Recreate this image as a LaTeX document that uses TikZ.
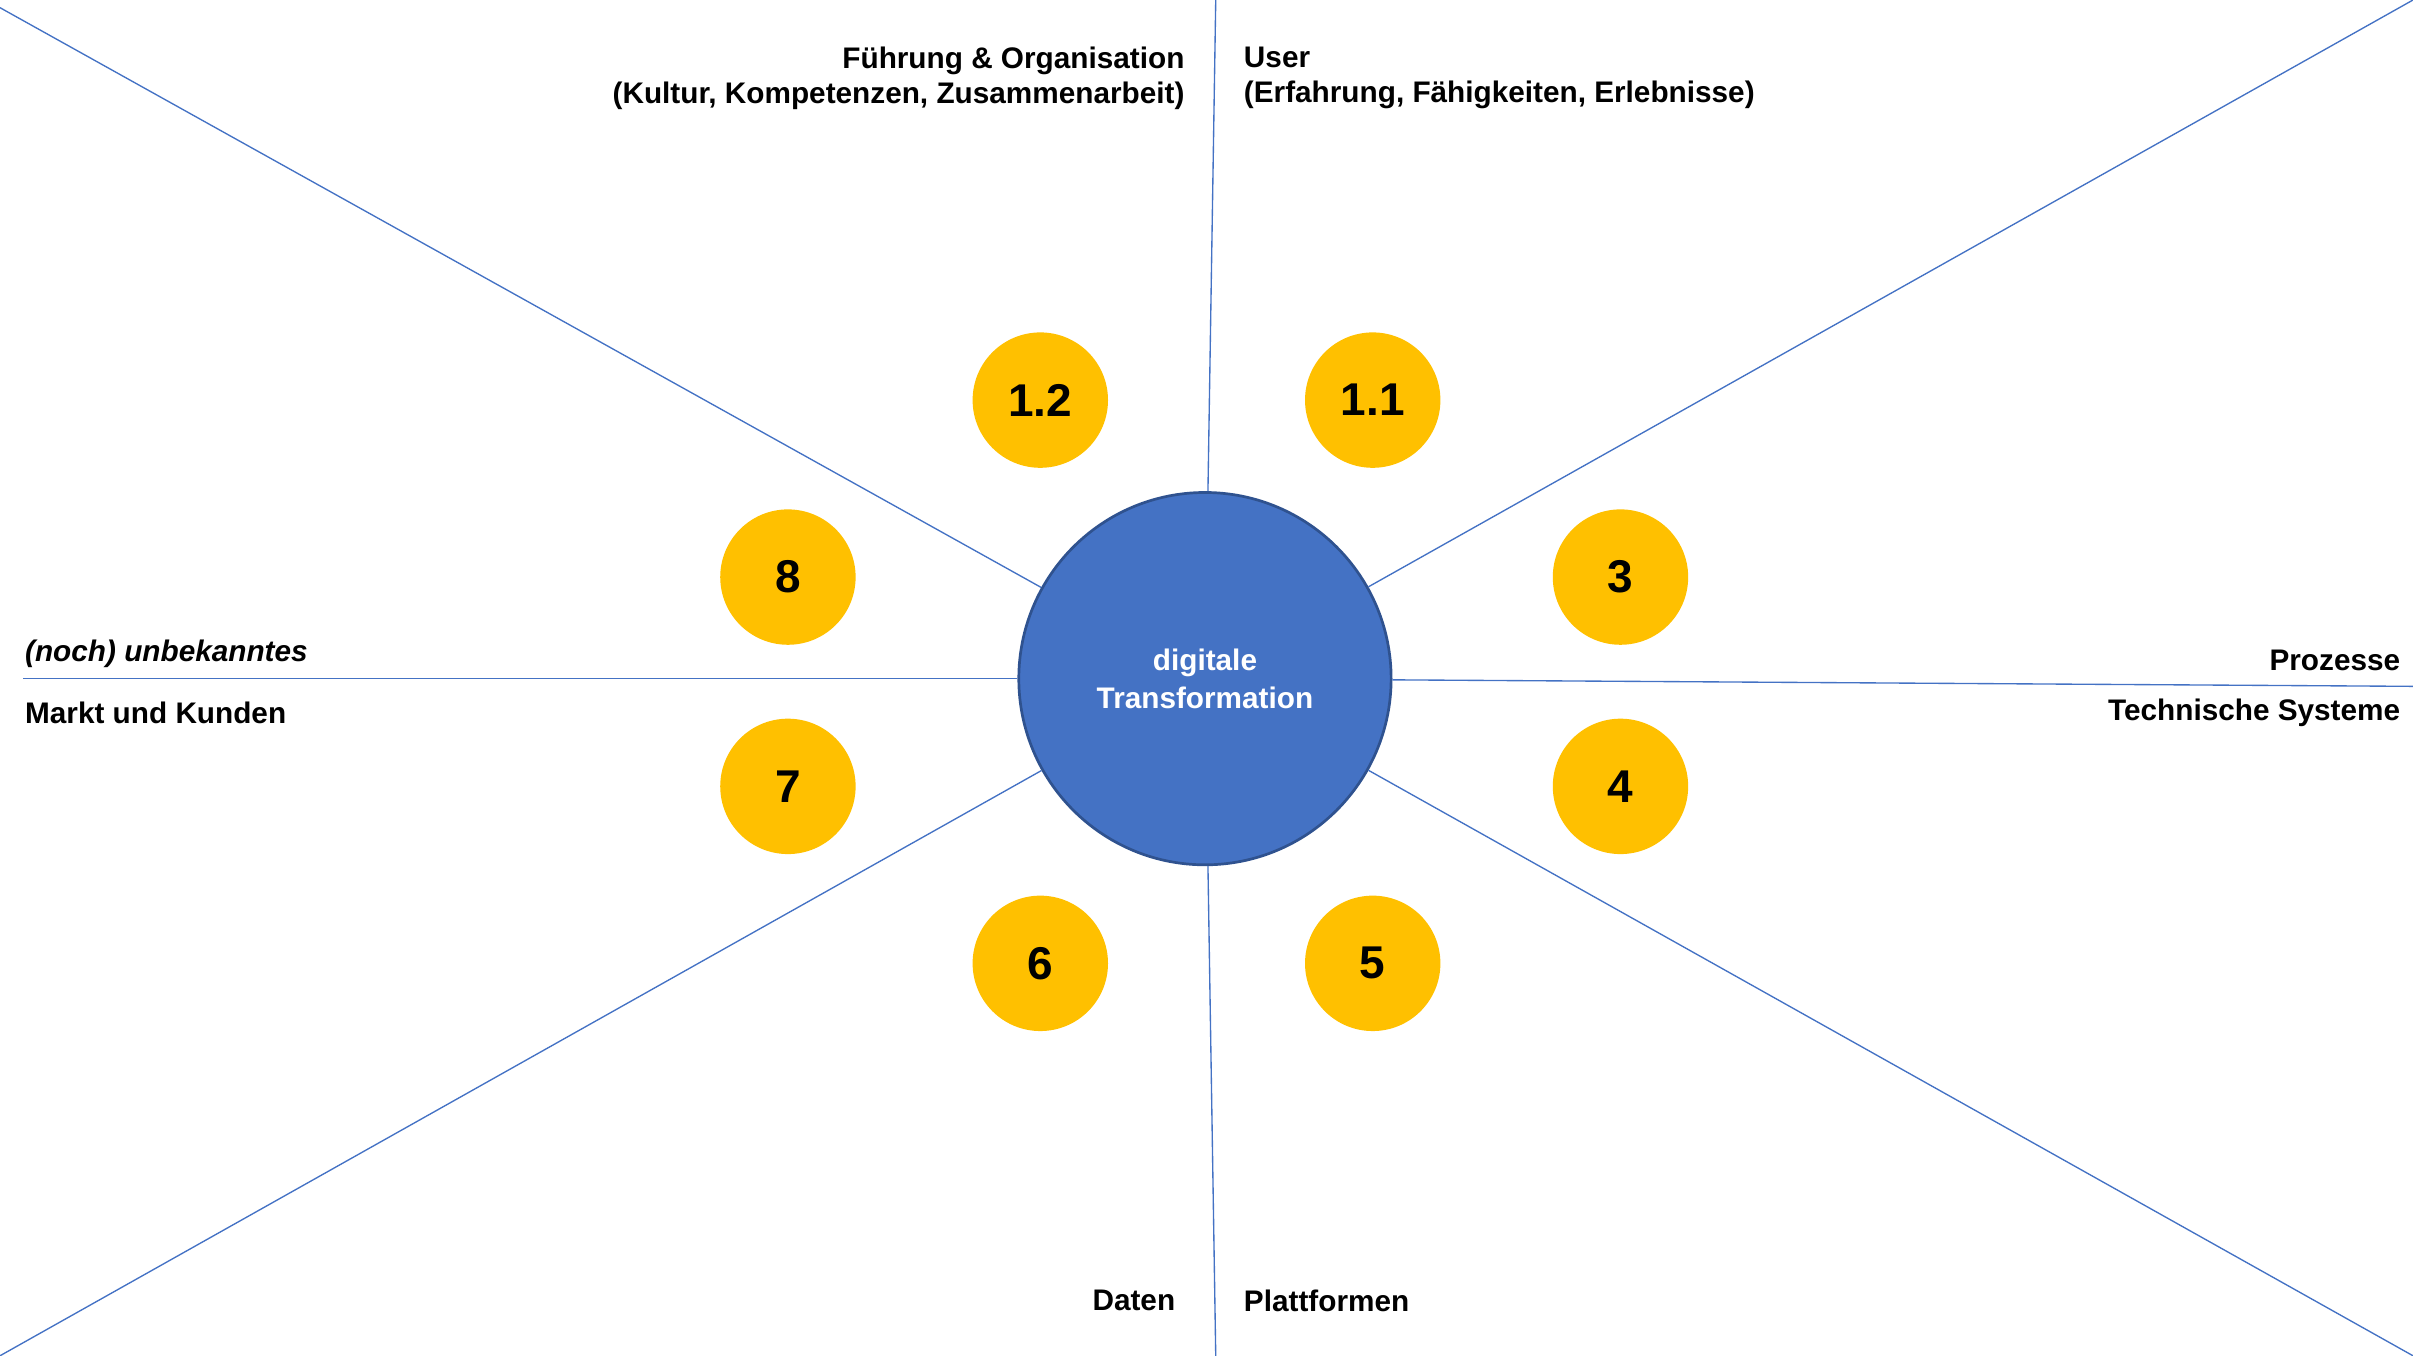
\documentclass[tikz,border=0pt]{standalone}
\usepackage{fontspec}
\setmainfont{Liberation Sans}
\usepackage{tikz}
\definecolor{ringblue}{RGB}{68,114,196}
\definecolor{coreblue}{RGB}{47,82,143}
\definecolor{sungold}{RGB}{255,192,0}
\tikzset{
  spoke/.style={ringblue, line width=0.5pt},
  field/.style={inner sep=0pt, font=\bfseries\fontsize{11}{14}\selectfont, align=left},
  fieldr/.style={field, align=right},
  petal/.style={circle, fill=sungold, minimum size=1.76cm, inner sep=0pt, font=\bfseries\fontsize{17}{20}\selectfont}
}
\begin{document}
\begin{tikzpicture}[x=0.02cm, y=-0.02cm]
\useasboundingbox (0,0) rectangle (1568,881);
% centre
\node [circle, draw=coreblue, line width=1pt, fill=ringblue, minimum size=4.84cm, text=white,
  align=center, font=\bfseries\fontsize{11}{14}\selectfont] (core) at (783,441) {digitale\\Transformation};
% spokes
\coordinate (n) at (790,0);
\coordinate (s) at (790,881);
\coordinate (w) at (15,441);
\coordinate (e) at (1568,446);
\coordinate (nw) at (0,5);
\coordinate (ne) at (1568,0);
\coordinate (sw) at (0,881);
\coordinate (se) at (1568,881);
\foreach \p in {n,s,w,e,nw,ne,sw,se}
  \draw [spoke] (\p) -- (core);
% petals
\node [petal] (p12) at (676,260) {1.2};
\node [petal] (p11) at (892,260) {1.1};
\node [petal] (p8) at (512,375) {8};
\node [petal] (p3) at (1053,375) {3};
\node [petal] (p7) at (512,511) {7};
\node [petal] (p4) at (1053,511) {4};
\node [petal] (p6) at (676,626) {6};
\node [petal] (p5) at (892,626) {5};
% labels
\node [fieldr, anchor=north east] (lead) at (770,30) {Führung \& Organisation\\[-1pt](Kultur, Kompetenzen, Zusammenarbeit)};
\node [field, anchor=north west] (user) at (808,30) {User\\[-1pt](Erfahrung, Fähigkeiten, Erlebnisse)};
\node [field, anchor=west] (unk) at (16,425) {\itshape (noch) unbekanntes};
\node [field, anchor=west] (mark) at (16,463) {Markt und Kunden};
\node [fieldr, anchor=east] (proz) at (1560,429) {Prozesse};
\node [fieldr, anchor=east] (tech) at (1560,463) {Technische Systeme};
\node [fieldr, anchor=east] (dat) at (764,845) {Daten};
\node [field, anchor=west] (plat) at (808,845) {Plattformen};
\end{tikzpicture}
\end{document}
